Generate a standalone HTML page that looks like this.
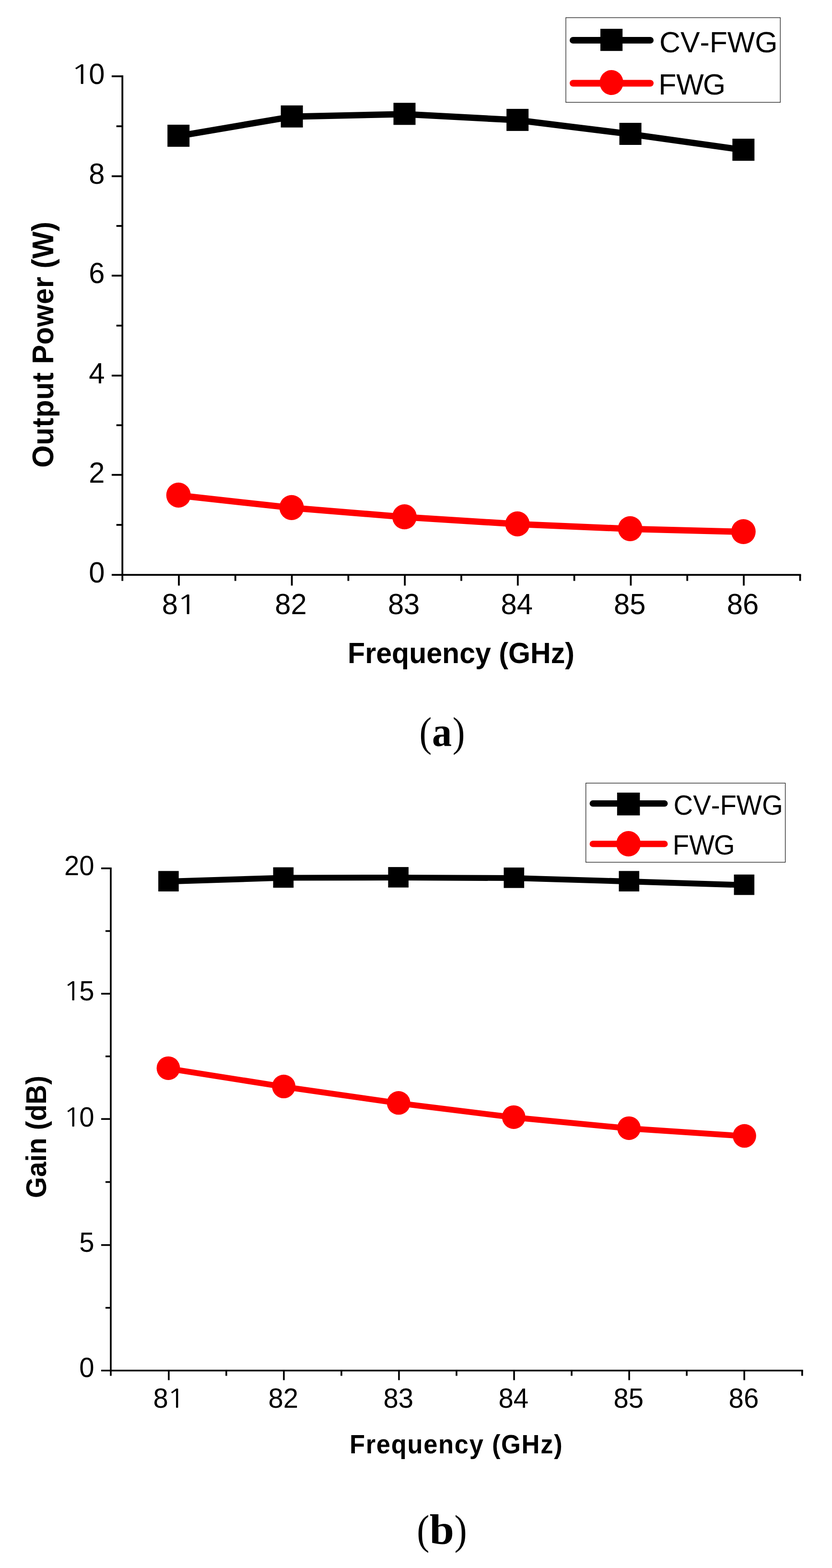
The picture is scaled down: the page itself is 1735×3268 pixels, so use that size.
<!DOCTYPE html>
<html lang="en">
<head>
<meta charset="utf-8">
<title>Output power and gain versus frequency</title>
<style>
html,body{margin:0;padding:0;background:#fff;}
body{width:1735px;height:3268px;overflow:hidden;}
svg{display:block;}
text{font-kerning:none;}
</style>
</head>
<body>
<svg width="1735" height="3268" viewBox="0 0 1735 3268">
<rect width="1735" height="3268" fill="#fff"/>
<g id="chart-a">
<g stroke="#000" stroke-width="3.8" fill="none">
<line x1="255.2" y1="157.1" x2="255.2" y2="1210.7"/>
<line x1="232.9" y1="1198.2" x2="1670.4" y2="1198.2"/>
<line x1="232.9" y1="159" x2="255.2" y2="159"/>
<line x1="242.7" y1="263.15" x2="255.2" y2="263.15"/>
<line x1="232.9" y1="367.3" x2="255.2" y2="367.3"/>
<line x1="242.7" y1="470.9" x2="255.2" y2="470.9"/>
<line x1="232.9" y1="574.5" x2="255.2" y2="574.5"/>
<line x1="242.7" y1="678.65" x2="255.2" y2="678.65"/>
<line x1="232.9" y1="782.8" x2="255.2" y2="782.8"/>
<line x1="242.7" y1="886.25" x2="255.2" y2="886.25"/>
<line x1="232.9" y1="989.7" x2="255.2" y2="989.7"/>
<line x1="242.7" y1="1093.95" x2="255.2" y2="1093.95"/>
<line x1="373" y1="1198.2" x2="373" y2="1220.5"/>
<line x1="490.8" y1="1198.2" x2="490.8" y2="1210.7"/>
<line x1="608.6" y1="1198.2" x2="608.6" y2="1220.5"/>
<line x1="726.4" y1="1198.2" x2="726.4" y2="1210.7"/>
<line x1="844.2" y1="1198.2" x2="844.2" y2="1220.5"/>
<line x1="962" y1="1198.2" x2="962" y2="1210.7"/>
<line x1="1079.8" y1="1198.2" x2="1079.8" y2="1220.5"/>
<line x1="1197.6" y1="1198.2" x2="1197.6" y2="1210.7"/>
<line x1="1315.4" y1="1198.2" x2="1315.4" y2="1220.5"/>
<line x1="1433.2" y1="1198.2" x2="1433.2" y2="1210.7"/>
<line x1="1551" y1="1198.2" x2="1551" y2="1220.5"/>
<line x1="1668.5" y1="1198.2" x2="1668.5" y2="1210.7"/>
</g>
<g font-family="'Liberation Sans', Arial, Helvetica, sans-serif" fill="#000">
<text transform="translate(152,174.6) scale(1,1.0125)" font-size="59.7" text-anchor="start"><tspan font-family="NanumGothic, 'Liberation Sans', sans-serif" font-size="55.4" textLength="44.32" lengthAdjust="spacingAndGlyphs" dx="-5.18">1</tspan><tspan dx="-5.93">0</tspan></text>
<text transform="translate(185.2,383.3) scale(1,1.0125)" font-size="59.7" text-anchor="start">8</text>
<text transform="translate(185.2,590.3) scale(1,1.0125)" font-size="59.7" text-anchor="start">6</text>
<text transform="translate(185.2,799.1) scale(1,1.0125)" font-size="59.7" text-anchor="start">4</text>
<text transform="translate(185.2,1006.1) scale(1,1.0125)" font-size="59.7" text-anchor="start">2</text>
<text transform="translate(185.2,1214.4) scale(1,1.0125)" font-size="59.7" text-anchor="start">0</text>
<text transform="translate(337.7,1279.7) scale(1,1.0125)" font-size="59.7" text-anchor="start">8<tspan font-family="NanumGothic, 'Liberation Sans', sans-serif" font-size="55.4" textLength="44.32" lengthAdjust="spacingAndGlyphs" dx="-3.18">1</tspan></text>
<text transform="translate(573.3,1279.7) scale(1,1.0125)" font-size="59.7" text-anchor="start">82</text>
<text transform="translate(808.9,1279.7) scale(1,1.0125)" font-size="59.7" text-anchor="start">83</text>
<text transform="translate(1044.5,1279.7) scale(1,1.0125)" font-size="59.7" text-anchor="start">84</text>
<text transform="translate(1280.1,1279.7) scale(1,1.0125)" font-size="59.7" text-anchor="start">85</text>
<text transform="translate(1515.7,1279.7) scale(1,1.0125)" font-size="59.7" text-anchor="start">86</text>
</g>
<polyline points="372.2,283.4 608.6,243.2 843.5,237.8 1079.2,250.4 1314.6,279.5 1550.3,312.6" fill="none" stroke="#000" stroke-width="13.2" stroke-linejoin="round"/>
<polyline points="372.2,1032.4 608.1,1058.3 843.5,1077.7 1079,1092.4 1314.1,1102.3 1550.3,1108.5" fill="none" stroke="#f00" stroke-width="13.2" stroke-linejoin="round"/>
<rect x="349.2" y="259.9" width="46" height="46" fill="#000"/>
<rect x="585.6" y="219.7" width="46" height="46" fill="#000"/>
<rect x="820.5" y="214.3" width="46" height="46" fill="#000"/>
<rect x="1056.2" y="226.9" width="46" height="46" fill="#000"/>
<rect x="1291.6" y="256" width="46" height="46" fill="#000"/>
<rect x="1527.3" y="289.1" width="46" height="46" fill="#000"/>
<ellipse cx="372.2" cy="1031.9" rx="25.5" ry="26.1" fill="#f00"/>
<ellipse cx="608.1" cy="1057.8" rx="25.5" ry="26.1" fill="#f00"/>
<ellipse cx="843.5" cy="1077.2" rx="25.5" ry="26.1" fill="#f00"/>
<ellipse cx="1079" cy="1091.9" rx="25.5" ry="26.1" fill="#f00"/>
<ellipse cx="1314.1" cy="1101.8" rx="25.5" ry="26.1" fill="#f00"/>
<ellipse cx="1550.3" cy="1108" rx="25.5" ry="26.1" fill="#f00"/>
<g font-family="'Liberation Sans', Arial, Helvetica, sans-serif" font-weight="bold" fill="#000">
<text transform="translate(961.5,1382.1) scale(1,1.04)" font-size="59.1" text-anchor="middle" letter-spacing="0">Frequency (GHz)</text>
<text transform="translate(110.6,718.2) rotate(-90) scale(1,1.05)" font-size="60.0" text-anchor="middle" letter-spacing="0.43">Output Power (W)</text>
</g>
<rect x="1180" y="36.8" width="447.2" height="176.5" fill="#fff" stroke="#222" stroke-width="1.3"/>
<line x1="1194.9" y1="83.9" x2="1356.1" y2="83.9" stroke="#000" stroke-width="13.8" stroke-linecap="round"/>
<rect x="1252" y="60" width="46.2" height="46.2" fill="#000"/>
<line x1="1194.9" y1="173.5" x2="1356.1" y2="173.5" stroke="#f00" stroke-width="13.8" stroke-linecap="round"/>
<ellipse cx="1275.1" cy="172" rx="24.7" ry="26.1" fill="#f00"/>
<g font-family="'Liberation Sans', Arial, Helvetica, sans-serif" fill="#000">
<text transform="translate(1375,108.6)" font-size="60.8" text-anchor="start">CV-FWG</text>
<text transform="translate(1373.2,196.6)" font-size="60.8" text-anchor="start">FW<tspan dx="-2.0">G</tspan></text>
</g>
<text x="874.6" y="1555.2" font-family="'Liberation Serif', 'Times New Roman', serif" font-size="86" fill="#000"><tspan textLength="25.77" lengthAdjust="spacingAndGlyphs">(</tspan><tspan font-weight="bold" font-size="86" textLength="41.15" lengthAdjust="spacingAndGlyphs" dx="0.67">a</tspan><tspan textLength="25.77" lengthAdjust="spacingAndGlyphs" dx="1.51">)</tspan></text>
</g>
<g id="chart-b">
<g stroke="#000" stroke-width="3.6" fill="none">
<line x1="231" y1="1807.9" x2="231" y2="2867.5"/>
<line x1="211" y1="2856.5" x2="1674.6" y2="2856.5"/>
<line x1="211" y1="1809.8" x2="231" y2="1809.8"/>
<line x1="220" y1="1940.45" x2="231" y2="1940.45"/>
<line x1="211" y1="2071.1" x2="231" y2="2071.1"/>
<line x1="220" y1="2201.65" x2="231" y2="2201.65"/>
<line x1="211" y1="2332.2" x2="231" y2="2332.2"/>
<line x1="220" y1="2463.55" x2="231" y2="2463.55"/>
<line x1="211" y1="2594.9" x2="231" y2="2594.9"/>
<line x1="220" y1="2725.7" x2="231" y2="2725.7"/>
<line x1="351.9" y1="2856.5" x2="351.9" y2="2876.5"/>
<line x1="471.92" y1="2856.5" x2="471.92" y2="2867.5"/>
<line x1="591.94" y1="2856.5" x2="591.94" y2="2876.5"/>
<line x1="711.96" y1="2856.5" x2="711.96" y2="2867.5"/>
<line x1="831.98" y1="2856.5" x2="831.98" y2="2876.5"/>
<line x1="952" y1="2856.5" x2="952" y2="2867.5"/>
<line x1="1072.02" y1="2856.5" x2="1072.02" y2="2876.5"/>
<line x1="1192.04" y1="2856.5" x2="1192.04" y2="2867.5"/>
<line x1="1312.06" y1="2856.5" x2="1312.06" y2="2876.5"/>
<line x1="1432.08" y1="2856.5" x2="1432.08" y2="2867.5"/>
<line x1="1552.1" y1="2856.5" x2="1552.1" y2="2876.5"/>
<line x1="1672.8" y1="2856.5" x2="1672.8" y2="2867.5"/>
</g>
<g font-family="'Liberation Sans', Arial, Helvetica, sans-serif" fill="#000">
<text transform="translate(133.88,1823.5) scale(1,1.016)" font-size="56.3" text-anchor="start">20</text>
<text transform="translate(133.88,2084.7) scale(1,1.016)" font-size="56.3" text-anchor="start"><tspan font-family="NanumGothic, 'Liberation Sans', sans-serif" font-size="53.4" textLength="38.51" lengthAdjust="spacingAndGlyphs" dx="-2.32">1</tspan><tspan dx="-4.87">5</tspan></text>
<text transform="translate(133.88,2347.7) scale(1,1.016)" font-size="56.3" text-anchor="start"><tspan font-family="NanumGothic, 'Liberation Sans', sans-serif" font-size="53.4" textLength="38.51" lengthAdjust="spacingAndGlyphs" dx="-2.32">1</tspan><tspan dx="-4.87">0</tspan></text>
<text transform="translate(165.19,2609.2) scale(1,1.016)" font-size="56.3" text-anchor="start">5</text>
<text transform="translate(165.19,2870.4) scale(1,1.016)" font-size="56.3" text-anchor="start">0</text>
<text transform="translate(319.39,2933.5) scale(1,1.016)" font-size="56.3" text-anchor="start">8<tspan font-family="NanumGothic, 'Liberation Sans', sans-serif" font-size="53.4" textLength="38.51" lengthAdjust="spacingAndGlyphs" dx="-2.72">1</tspan></text>
<text transform="translate(559.43,2933.5) scale(1,1.016)" font-size="56.3" text-anchor="start">82</text>
<text transform="translate(799.47,2933.5) scale(1,1.016)" font-size="56.3" text-anchor="start">83</text>
<text transform="translate(1039.51,2933.5) scale(1,1.016)" font-size="56.3" text-anchor="start">84</text>
<text transform="translate(1279.55,2933.5) scale(1,1.016)" font-size="56.3" text-anchor="start">85</text>
<text transform="translate(1519.59,2933.5) scale(1,1.016)" font-size="56.3" text-anchor="start">86</text>
</g>
<polyline points="351.4,1837.2 590.9,1829.5 830.7,1829 1071.8,1830 1311.8,1837.2 1551.8,1844.6" fill="none" stroke="#000" stroke-width="12.2" stroke-linejoin="round"/>
<polyline points="351,2226.9 591.7,2265 831.2,2299.3 1071.3,2328.9 1311.6,2351.9 1552.4,2368" fill="none" stroke="#f00" stroke-width="12.2" stroke-linejoin="round"/>
<rect x="330.1" y="1815.3" width="42.6" height="42.6" fill="#000"/>
<rect x="569.6" y="1807.6" width="42.6" height="42.6" fill="#000"/>
<rect x="809.4" y="1807.1" width="42.6" height="42.6" fill="#000"/>
<rect x="1050.5" y="1808.1" width="42.6" height="42.6" fill="#000"/>
<rect x="1290.5" y="1815.3" width="42.6" height="42.6" fill="#000"/>
<rect x="1530.5" y="1822.7" width="42.6" height="42.6" fill="#000"/>
<ellipse cx="351" cy="2226.3" rx="24.4" ry="24.65" fill="#f00"/>
<ellipse cx="591.7" cy="2264.4" rx="24.4" ry="24.65" fill="#f00"/>
<ellipse cx="831.2" cy="2298.7" rx="24.4" ry="24.65" fill="#f00"/>
<ellipse cx="1071.3" cy="2328.3" rx="24.4" ry="24.65" fill="#f00"/>
<ellipse cx="1311.6" cy="2351.3" rx="24.4" ry="24.65" fill="#f00"/>
<ellipse cx="1552.4" cy="2367.4" rx="24.4" ry="24.65" fill="#f00"/>
<g font-family="'Liberation Sans', Arial, Helvetica, sans-serif" font-weight="bold" fill="#000">
<text transform="translate(951.6,3029.2) scale(1,1.04)" font-size="52.5" text-anchor="middle" letter-spacing="1.7">Frequency (GHz)</text>
<text transform="translate(96.1,2369.5) rotate(-90) scale(1,1.03)" font-size="56.7" text-anchor="middle" letter-spacing="0">Gain (dB)</text>
</g>
<rect x="1221.7" y="1632.2" width="415.9" height="164.9" fill="#fff" stroke="#222" stroke-width="1.3"/>
<line x1="1236.2" y1="1674.7" x2="1385.9" y2="1674.7" stroke="#000" stroke-width="13.2" stroke-linecap="round"/>
<rect x="1286.85" y="1651.95" width="47.5" height="47.5" fill="#000"/>
<line x1="1236.2" y1="1758.9" x2="1385.9" y2="1758.9" stroke="#f00" stroke-width="13.2" stroke-linecap="round"/>
<ellipse cx="1310.6" cy="1758.5" rx="25.4" ry="26.5" fill="#f00"/>
<g font-family="'Liberation Sans', Arial, Helvetica, sans-serif" fill="#000">
<text transform="translate(1404.6,1697.8) scale(1,1.016)" font-size="56.25" text-anchor="start">CV-FWG</text>
<text transform="translate(1402.7,1781.1) scale(1,1.016)" font-size="56.25" text-anchor="start">FW<tspan dx="-1.4">G</tspan></text>
</g>
<text x="869.34" y="3218" font-family="'Liberation Serif', 'Times New Roman', serif" font-size="86" fill="#000"><tspan textLength="26.2" lengthAdjust="spacingAndGlyphs">(</tspan><tspan font-weight="bold" font-size="89.27" textLength="51.18" lengthAdjust="spacingAndGlyphs" dx="0.19">b</tspan><tspan textLength="26.2" lengthAdjust="spacingAndGlyphs" dx="0.56">)</tspan></text>
</g>
</svg>
</body>
</html>
